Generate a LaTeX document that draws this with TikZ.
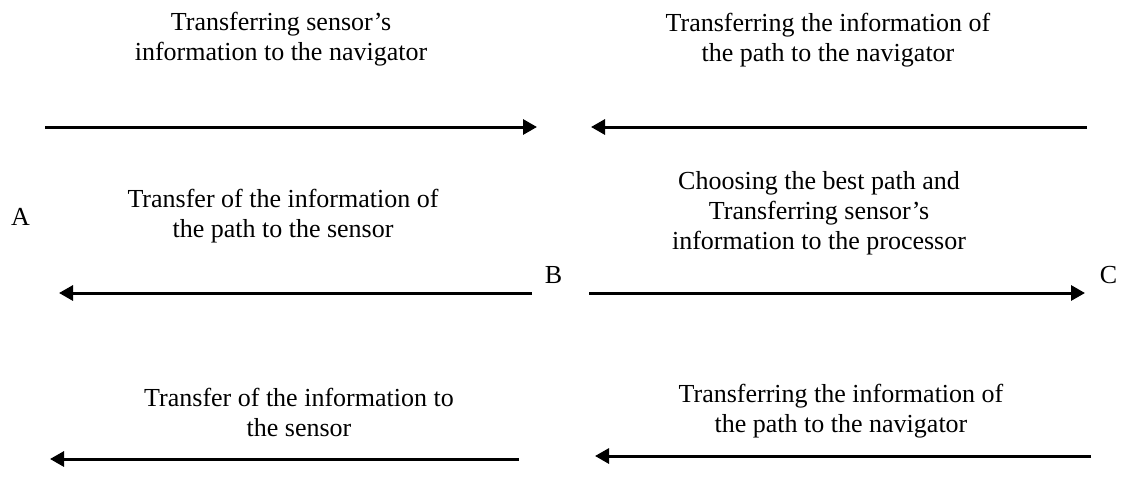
\documentclass[tikz,border=0pt]{standalone}
\usepackage{fontspec}
\setmainfont{Liberation Serif}
\usetikzlibrary{arrows.meta, positioning}

\begin{document}
\begin{tikzpicture}[x=1pt, y=-1pt]
		\tikzstyle{Text} = [inner sep=0pt, align=center, font=\fontsize{26}{30}\selectfont]
		\tikzstyle{Letter} = [inner sep=0pt, anchor=base, font=\fontsize{26}{30}\selectfont]
		\tikzstyle{arrow} = [line width=3pt, -{Triangle[length=14pt, width=15pt]}]
		\useasboundingbox (0,0) rectangle (1121,493);

		\node (1) [Text] at (281,39.5) {Transferring sensor's\\information to the navigator};
		\node (2) [Text] at (828,40) {Transferring the information of\\the path to the navigator};
		\node (3) [Text] at (283,216) {Transfer of the information of\\the path to the sensor};
		\node (4) [Text] at (819,213) {Choosing the best path and\\Transferring sensor's\\information to the processor};
		\node (5) [Text] at (299,412.5) {Transfer of the information to\\the sensor};
		\node (6) [Text] at (841,411) {Transferring the information of\\the path to the navigator};

		\node (A) [Letter] at (20.5,225) {A};
		\node (B) [Letter] at (553.5,283) {B};
		\node (C) [Letter] at (1108.5,283) {C};

		\coordinate (a1) at (45,127);
		\coordinate (b1) at (537,127);
		\coordinate (a2) at (1087,127);
		\coordinate (b2) at (591,127);
		\coordinate (a3) at (532,293);
		\coordinate (b3) at (59,293);
		\coordinate (a4) at (589,293);
		\coordinate (b4) at (1085,293);
		\coordinate (a5) at (519,459);
		\coordinate (b5) at (50,459);
		\coordinate (a6) at (1091,456);
		\coordinate (b6) at (595,456);

		\draw [arrow] (a1) -- (b1);
		\draw [arrow] (a2) -- (b2);
		\draw [arrow] (a3) -- (b3);
		\draw [arrow] (a4) -- (b4);
		\draw [arrow] (a5) -- (b5);
		\draw [arrow] (a6) -- (b6);
\end{tikzpicture}
\end{document}
